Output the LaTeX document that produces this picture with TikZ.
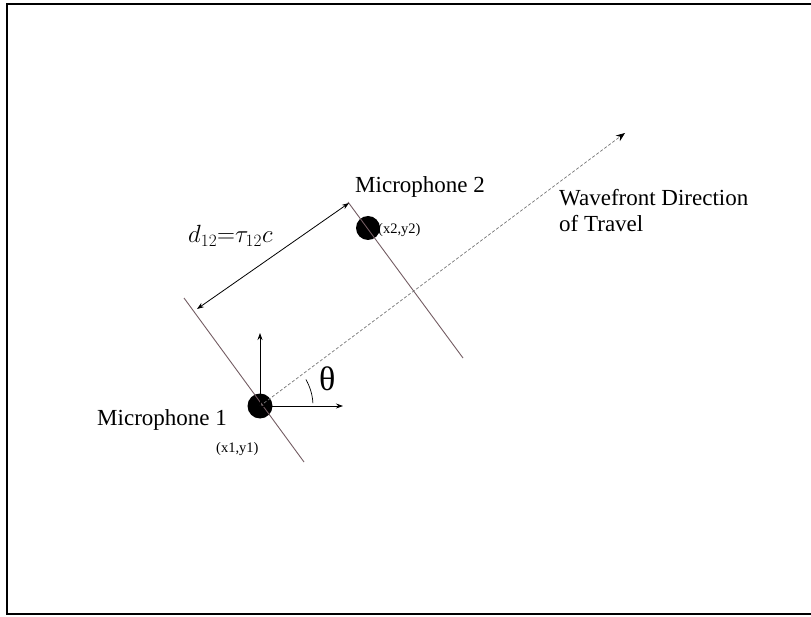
\documentclass[tikz,border=0pt]{standalone}
\usepackage{fontspec}
\setmainfont{Liberation Serif}
\usetikzlibrary{arrows.meta, positioning}
\definecolor{micline}{RGB}{115,92,98}
\begin{document}
\begin{tikzpicture}[
  x=1pt, y=1pt,
  mic/.style = {circle, fill=black, inner sep=0pt},
  arr/.style = {-{Stealth[length=7pt, width=5pt]}, line width=0.8pt},
  front/.style = {draw=micline, line width=0.9pt},
  wave/.style = {-{Stealth[length=9pt, width=7pt, black]}, draw=black!55, line width=0.7pt, dash pattern=on 3pt off 2pt},
  label/.style = {font=\fontsize{23}{26}\selectfont, inner sep=0pt, align=left},
  small label/.style = {font=\fontsize{14.5}{17}\selectfont, inner sep=0pt},
]
\useasboundingbox (0,0) rectangle (811,-617);
\draw[line width=2.5pt] (811,-4) -- (7,-4) -- (7,-614) -- (811,-614);

% microphones
\node[mic, minimum size=25pt] (mic1) at (260,-406) {};
\node[mic, minimum size=24pt] (mic2) at (368,-228) {};

% wavefront lines
\coordinate (l1a) at (184,-298);
\coordinate (l1b) at (304,-462);
\coordinate (l2a) at (348,-202);
\coordinate (l2b) at (463,-358);
\draw[front] (l1a) -- (l1b);
\draw[front] (l2a) -- (l2b);

% direction of travel
\coordinate (wavetip) at (625,-133);
\draw[wave] (mic1.center) -- (wavetip);

% axes
\coordinate (yaxis) at (260,-333);
\coordinate (xaxis) at (343,-406);
\draw[arr] (mic1.center) -- (yaxis);
\draw[arr] (mic1.center) -- (xaxis);
\draw[line width=0.7pt] ([shift={(3:53)}]mic1.center) arc (3:30:53);

% distance
\coordinate (dimA) at (197,-309);
\coordinate (dimB) at (349,-203);
\draw[{Stealth[length=7pt, width=5pt]}-{Stealth[length=7pt, width=5pt]}, line width=0.8pt] (dimA) -- (dimB);

% labels
\node[label, anchor=base west] (mic1lbl) at (97,-425) {Microphone 1};
\node[small label, anchor=base west] (pos1) at (216,-452) {(x1,y1)};
\node[label, anchor=base west] (mic2lbl) at (355,-193) {Microphone 2};
\node[small label, anchor=base west] (pos2) at (378,-234) {(x2,y2)};
\node[label, anchor=base west] (wavelbl) at (559,-232) {Wavefront Direction\\of Travel};
\node[label, anchor=base west, font=\fontsize{24}{28}\selectfont] (dlbl) at (188,-243) {$d_{12}{=}\tau_{12}c$};
\node[label, anchor=base west, font=\fontsize{34}{38}\selectfont] (theta) at (319,-390) {θ};

\end{tikzpicture}
\end{document}
